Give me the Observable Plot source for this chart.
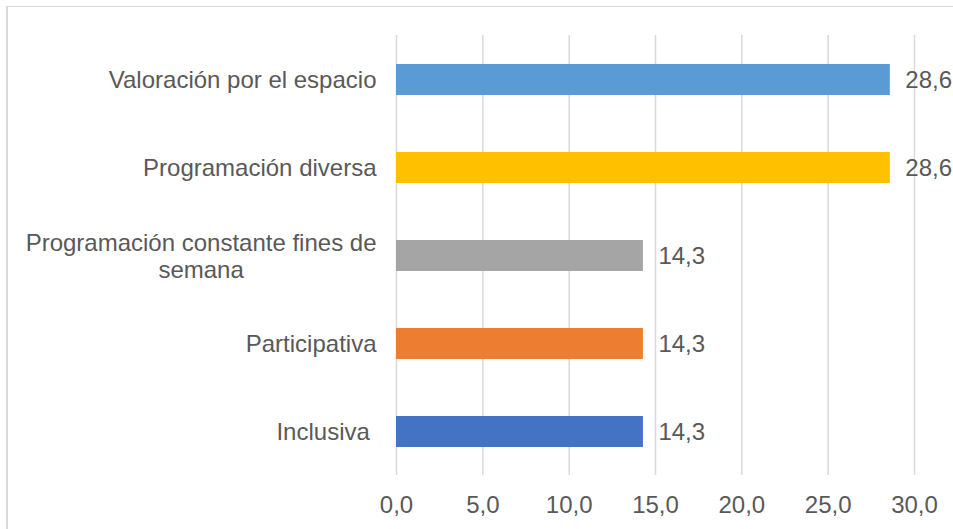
<!DOCTYPE html>
<html>
<head>
<meta charset="utf-8">
<script src="https://cdn.jsdelivr.net/npm/d3@7"></script>
<script src="https://cdn.jsdelivr.net/npm/@observablehq/plot@0.6"></script>
<style>
  html, body { margin: 0; padding: 0; background: #fff; }
  #wrap { position: relative; width: 953px; height: 529px; overflow: hidden; font-family: "Liberation Sans", Arial, sans-serif; }
  #frame { position: absolute; left: 6px; top: 6px; width: 2000px; height: 2000px; border-top: 1px solid #d9d9d9; border-left: 2px solid #d9d9d9; }
  #chart { position: absolute; left: 0; top: 0; }
</style>
</head>
<body>
<div id="wrap"><div id="frame"></div><div id="chart"></div></div>
<script>
// Data
const categories = [
  "Valoración por el espacio",
  "Programación diversa",
  "Programación constante fines de semana",
  "Participativa",
  "Inclusiva"
];
const categoryLabels = [
  "Valoración por el espacio",
  "Programación diversa",
  "Programación constante fines de\nsemana",
  "Participativa",
  "Inclusiva\u00a0"
];
const values = [28.6, 28.6, 14.3, 14.3, 14.3];
const barColors = ["#5B9BD5", "#FFC000", "#A5A5A5", "#ED7D31", "#4472C4"];
const xTicks = [0, 5, 10, 15, 20, 25, 30];

const data = categories.map((c, i) => ({category: c, value: values[i]}));
const labelOf = new Map(categories.map((c, i) => [c, categoryLabels[i]]));
const fmt = v => v.toFixed(1).replace(".", ",");
const textColor = "#595959";

const chart = Plot.plot({
  width: 953,
  height: 529,
  marginLeft: 396,
  marginRight: 39,
  marginTop: 35,
  marginBottom: 54,
  style: {fontFamily: "'Liberation Sans', Arial, sans-serif", fontSize: "24px", color: textColor, background: "transparent"},
  x: {domain: [0, 30], label: null},
  y: {domain: categories, paddingInner: 0.648, paddingOuter: 0.324, label: null},
  color: {domain: categories, range: barColors},
  marks: [
    Plot.ruleX(xTicks, {stroke: "#d9d9d9", strokeWidth: 1.5}),
    Plot.barX(data, {y: "category", x: "value", fill: "category"}),
    Plot.text(data, {y: "category", x: "value", text: d => fmt(d.value), textAnchor: "start", dx: 15, fill: textColor, fontSize: 24}),
    Plot.axisX({ticks: xTicks, tickFormat: fmt, tickSize: 0, tickPadding: 20, fontSize: 24, fill: textColor, label: null}),
    Plot.axisY({tickFormat: d => labelOf.get(d), tickSize: 0, tickPadding: 20, fontSize: 24, fill: textColor, lineHeight: 1.1, label: null})
  ]
});
document.getElementById("chart").appendChild(chart);

// Center-align the wrapped multi-line category label, as in the original
chart.querySelectorAll("g[aria-label='y-axis tick label'] text").forEach(t => {
  const spans = t.querySelectorAll("tspan");
  if (spans.length > 1) {
    let w = 0;
    spans.forEach(s => { w = Math.max(w, s.getComputedTextLength()); });
    t.setAttribute("text-anchor", "middle");
    const tr = t.getAttribute("transform") || "";
    t.setAttribute("transform", tr + ` translate(${-w / 2},0)`);
  }
});
</script>
</body>
</html>
